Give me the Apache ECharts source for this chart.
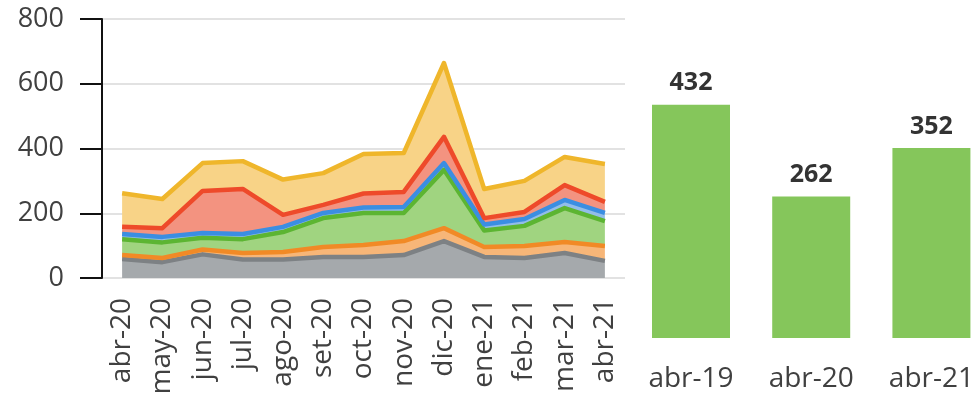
<!DOCTYPE html>
<html>
<head>
<meta charset="utf-8">
<script src="https://cdn.jsdelivr.net/npm/echarts@6/dist/echarts.min.js"></script>
<style>
    html, body { margin: 0; padding: 0; background: #fff; }
    #chart { width: 977px; height: 402px; }
</style>
</head>
<body>
<div id="chart"></div>
<script>
    // meses del gráfico de áreas
    var months = ['abr-20', 'may-20', 'jun-20', 'jul-20', 'ago-20', 'set-20', 'oct-20', 'nov-20', 'dic-20', 'ene-21', 'feb-21', 'mar-21', 'abr-21'];
    // capas apiladas (de abajo hacia arriba)
    var grayVals   = [59, 49, 73, 57, 57, 65, 65, 71, 114, 65, 62, 77, 53];
    var orangeVals = [12, 13, 15, 20, 23, 31, 37, 43, 40, 31, 37, 34, 46];
    var greenVals  = [49, 48, 36, 43, 62, 89, 99, 87, 180, 51, 62, 105, 77];
    var blueVals   = [16, 17, 15, 16, 16, 16, 17, 18, 21, 18, 21, 25, 25];
    var redVals    = [22, 27, 130, 139, 37, 25, 43, 47, 81, 20, 22, 46, 34];
    var yellowVals = [104, 90, 86, 86, 109, 98, 122, 120, 228, 90, 96, 87, 117];
    var yTicks = [0, 200, 400, 600, 800];

    // barras comparativas
    var barCats = ['abr-19', 'abr-20', 'abr-21'];
    var barVals = [432, 262, 352];

    var layers = [
        { name: 'gris', data: grayVals, line: '#7d8184', fill: '#a5a9ac' },
        { name: 'naranja', data: orangeVals, line: '#f18a26', fill: '#f7b678' },
        { name: 'verde', data: greenVals, line: '#5cb532', fill: '#a0d480' },
        { name: 'azul', data: blueVals, line: '#3b8ee2', fill: '#92bde9' },
        { name: 'rojo', data: redVals, line: '#ee4a2a', fill: '#f39380' },
        { name: 'amarillo', data: yellowVals, line: '#efb62b', fill: '#f8d387' }
    ];

    var txt = '#404040';
    var font = '"Open Sans", sans-serif';

    var series = layers.map(function (l) {
        return {
            name: l.name,
            type: 'line',
            stack: 'total',
            xAxisIndex: 0,
            yAxisIndex: 0,
            data: l.data,
            showSymbol: false,
            symbol: 'none',
            lineStyle: { color: l.line, width: 4.5, join: 'round' },
            itemStyle: { color: l.line },
            areaStyle: { color: l.fill, opacity: 1 }
        };
    });

    series.push({
        type: 'bar',
        xAxisIndex: 1,
        yAxisIndex: 1,
        data: barVals,
        barWidth: 78,
        itemStyle: { color: '#85c65b' },
        label: {
            show: true,
            position: 'top',
            distance: 9,
            color: '#333',
            fontWeight: 'bold',
            fontSize: 25,
            fontFamily: font
        }
    });

    var option = {
        animation: false,
        textStyle: { fontFamily: font },
        grid: [
            { left: 102, top: 19, width: 523, height: 259 },
            // centros de las barras en los bordes del grid
            { left: 691, top: 14, width: 241, height: 324 }
        ],
        xAxis: [
            {
                type: 'category',
                gridIndex: 0,
                data: months,
                boundaryGap: true,
                axisLine: { show: false },
                axisTick: { show: false },
                axisLabel: {
                    rotate: 90,
                    margin: 20,
                    color: txt,
                    fontSize: 28,
                    fontFamily: font,
                    interval: 0
                }
            },
            {
                type: 'category',
                gridIndex: 1,
                data: barCats,
                boundaryGap: false,
                axisLine: { show: false },
                axisTick: { show: false },
                axisLabel: {
                    margin: 27,
                    color: txt,
                    fontSize: 28,
                    fontFamily: font
                }
            }
        ],
        yAxis: [
            {
                type: 'value',
                gridIndex: 0,
                min: yTicks[0],
                max: yTicks[yTicks.length - 1],
                interval: 200,
                axisLine: { show: true, lineStyle: { color: '#111', width: 2 } },
                axisTick: { show: true, length: 22, lineStyle: { color: '#111', width: 2 } },
                axisLabel: { margin: 38, color: txt, fontSize: 27, fontFamily: font },
                splitLine: { show: true, lineStyle: { color: '#e2e2e2', width: 2 } }
            },
            {
                type: 'value',
                gridIndex: 1,
                min: 0,
                max: 600,
                show: false,
                splitLine: { show: false }
            }
        ],
        series: series
    };

    var chart = echarts.init(document.getElementById('chart'));
    chart.setOption(option);
</script>
</body>
</html>
